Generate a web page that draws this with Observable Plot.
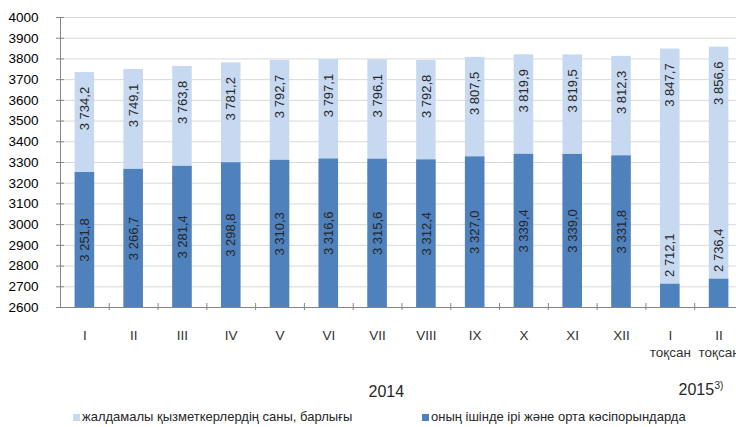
<!DOCTYPE html>
<html><head><meta charset="utf-8">
<script src="https://cdn.jsdelivr.net/npm/d3@7"></script>
<script src="https://cdn.jsdelivr.net/npm/@observablehq/plot@0.6"></script>
<style>
html,body{margin:0;padding:0;overflow:hidden;background:#fff;width:736px;height:427px;}
#wrap{position:relative;width:736px;height:427px;overflow:hidden;font-family:"Liberation Sans",Arial,sans-serif;}
#chart{position:absolute;left:0;top:0;}
.leg{position:absolute;top:409px;font-size:13px;color:#262626;white-space:nowrap;line-height:16px;}
.sw{display:inline-block;width:7px;height:7px;margin-right:2px;vertical-align:0px;}
</style></head><body><div id="wrap"><div id="chart"></div>
<div class="leg" id="leg1" style="left:73px"></div>
<div class="leg" id="leg2" style="left:422px"></div>
</div>
<script>
const categories = ["I","II","III","IV","V","VI","VII","VIII","IX","X","XI","XII","I\nтоқсан","II\nтоқсан"];
const totals = [3734.2,3749.1,3763.8,3781.2,3792.7,3797.1,3796.1,3792.8,3807.5,3819.9,3819.5,3812.3,3847.7,3856.6];
const largeMedium = [3251.8,3266.7,3281.4,3298.8,3310.3,3316.6,3315.6,3312.4,3327.0,3339.4,3339.0,3331.8,2712.1,2736.4];
const yearLabels = ["2014","2015"];
const yearNote = "3)";
const seriesNames = ["жалдамалы қызметкерлердің саны, барлығы","оның ішінде ірі және орта кәсіпорындарда"];
const yDomain = [2600, 4000];
const yTicks = d3.range(2600, 4001, 100);

const LIGHT = "#c6d9f1", DARK = "#4f81bd", AXIS = "#868686", GRID = "#d9d9d9", TXT = "#262626";
const fmt = d3.formatLocale({decimal: ",", thousands: " ", grouping: [3]}).format(",.1f");

const data = categories.map((c, i) => ({i, c, total: totals[i], part: largeMedium[i]}));
const half = 0.2;
// the reference's plot area runs slightly past the right edge of the picture
const xMax = categories.length - 0.5 - 0.143;

const chart = Plot.plot({
  width: 736, height: 405,
  marginLeft: 60, marginRight: 0, marginTop: 17, marginBottom: 98,
  style: {fontFamily: '"Liberation Sans", Arial, sans-serif', fontSize: "13px", color: "#000", background: "transparent"},
  x: {type: "linear", domain: [-0.5, xMax], label: null},
  y: {domain: yDomain, label: null},
  marks: [
    Plot.gridY(yTicks, {stroke: GRID, strokeOpacity: 1}),
    Plot.rect(data, {x1: d => d.i - half, x2: d => d.i + half, y1: () => yDomain[0], y2: "total", fill: LIGHT}),
    Plot.rect(data, {x1: d => d.i - half, x2: d => d.i + half, y1: () => yDomain[0], y2: "part", fill: DARK}),
    Plot.text(data, {x: "i", y: "total", dy: 36, rotate: -90, text: d => fmt(d.total), fontSize: 13, fill: TXT}),
    Plot.text(data, {x: "i", y: d => d.part > 3000 ? (d.part + yDomain[0]) / 2 : d.part + 140, rotate: -90, text: d => fmt(d.part), fontSize: 13, fill: TXT}),
    Plot.ruleX([-0.5], {stroke: AXIS}),
    Plot.ruleY([yDomain[0]], {stroke: AXIS}),
    Plot.axisY(yTicks, {tickSize: 8, dx: 4, tickPadding: 18, stroke: AXIS, fill: "#000", fontSize: 13.5, label: null, tickFormat: d => String(d)}),
    Plot.axisX(d3.range(0.5, categories.length - 1, 1), {tickSize: 7, dy: -4, stroke: AXIS, label: null, tickFormat: () => ""}),
    Plot.axisX(d3.range(categories.length), {tickSize: 0, tickPadding: 21, label: null, tickFormat: i => categories[i], lineHeight: 1.25, fontSize: 13.5, fill: "#333"}),
    Plot.text([yearLabels[0]], {frameAnchor: "bottom-left", textAnchor: "start", dx: 308, dy: 89, text: d => d, fontSize: 16, fill: "#262626"}),
    Plot.text([yearLabels[1]], {frameAnchor: "bottom-left", textAnchor: "start", dx: 618, dy: 87, text: d => d, fontSize: 16, fill: "#262626"}),
    Plot.text([yearNote], {frameAnchor: "bottom-left", textAnchor: "start", dx: 654, dy: 81, text: d => d, fontSize: 10, fill: "#262626"})
  ]
});
document.getElementById("chart").appendChild(chart);
document.getElementById("leg1").innerHTML = `<span class="sw" style="background:${LIGHT}"></span>${seriesNames[0]}`;
document.getElementById("leg2").innerHTML = `<span class="sw" style="background:${DARK}"></span>${seriesNames[1]}`;
</script></body></html>
